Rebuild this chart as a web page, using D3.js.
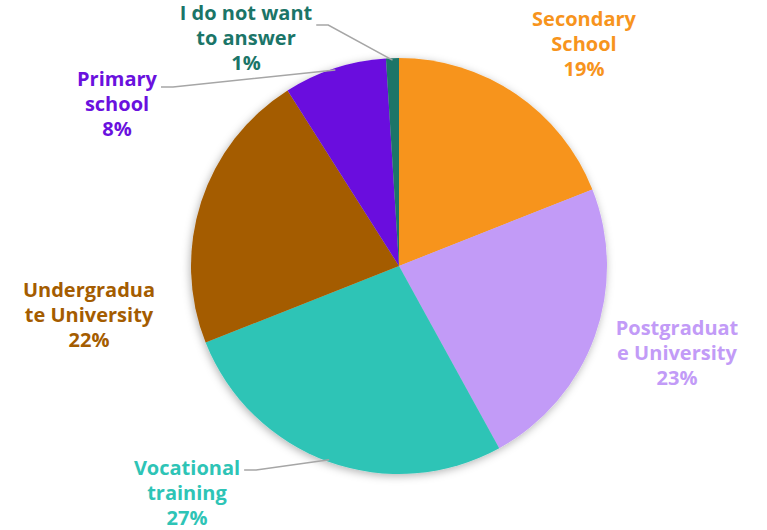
<!DOCTYPE html>
<html>
<head>
<meta charset="utf-8">
<script src="https://d3js.org/d3.v7.min.js"></script>
<style>
  body { margin: 0; background: #fff; }
  text { font-family: "Open Sans", Lato, sans-serif; font-weight: 700; }
</style>
</head>
<body>
<svg id="chart" width="767" height="530"></svg>
<script>
// data, clockwise from 12 o'clock
var categories = ["Secondary School", "Postgraduate University", "Vocational training",
                  "Undergraduate University", "Primary school", "I do not want to answer"];
var values = [19, 23, 27, 22, 8, 1];
var colors = ["#F7941D", "#C29BF7", "#2EC4B6", "#A45C00", "#6A11DE", "#1B7568"];
// label text as it wraps in the original
var labelLines = [
  ["Secondary", "School"],
  ["Postgraduat", "e University"],
  ["Vocational", "training"],
  ["Undergradua", "te University"],
  ["Primary", "school"],
  ["I do not want", "to answer"]
];

// layout
var width = 767, height = 530;
var cx = 399, cy = 266, radius = 208;
var lineH = 25;
// centre of each label block (x, y of the middle line)
var labelPos = [[584, 44], [677, 353], [187, 493], [89, 315], [117, 104], [246, 38]];
// leader line: vertical offset of the elbow from the label's middle line (null = no leader)
var leaderDy = [null, null, -23, null, -17, -13];

var svg = d3.select("#chart");

var defs = svg.append("defs");
var f = defs.append("filter").attr("id", "shadow")
  .attr("x", "-20%").attr("y", "-20%").attr("width", "140%").attr("height", "140%");
f.append("feDropShadow").attr("dx", -1).attr("dy", 2).attr("stdDeviation", 4)
  .attr("flood-color", "#000").attr("flood-opacity", 0.3);

var pie = d3.pie().sort(null).value(function(d) { return d; });
var arcs = pie(values);
var arc = d3.arc().innerRadius(0).outerRadius(radius);

var g = svg.append("g").attr("transform", "translate(" + cx + "," + cy + ")");

g.append("g").attr("filter", "url(#shadow)")
  .selectAll("path")
  .data(arcs)
  .enter()
  .append("path")
  .attr("d", arc)
  .attr("fill", function(d, i) { return colors[i]; });

function textWidth(s) {
  var t = svg.append("text").style("font-size", "20px").text(s);
  var w = t.node().getComputedTextLength();
  t.remove();
  return w;
}

// leader lines
arcs.forEach(function(d, i) {
  if (leaderDy[i] == null) return;
  var a = (d.startAngle + d.endAngle) / 2;
  var sx = cx + (radius - 2) * Math.sin(a), sy = cy - (radius - 2) * Math.cos(a);
  var lp = labelPos[i];
  var w = textWidth(labelLines[i][0]);
  var ex = lp[0] + w / 2 + 4;
  var ey = lp[1] + leaderDy[i];
  svg.append("polyline")
    .attr("points", [[ex, ey], [ex + 12, ey], [sx, sy]].map(function(p) { return p.join(","); }).join(" "))
    .attr("fill", "none")
    .attr("stroke", "#A6A6A6")
    .attr("stroke-width", 1.5);
});

// labels
arcs.forEach(function(d, i) {
  var lp = labelPos[i];
  var lines = labelLines[i].concat([values[i] + "%"]);
  var t = svg.append("text")
    .attr("text-anchor", "middle")
    .attr("fill", colors[i])
    .style("font-size", "20px");
  lines.forEach(function(l, k) {
    t.append("tspan")
      .attr("x", lp[0])
      .attr("y", lp[1] + (k - 1) * lineH + 7)
      .text(l);
  });
});
</script>
</body>
</html>
